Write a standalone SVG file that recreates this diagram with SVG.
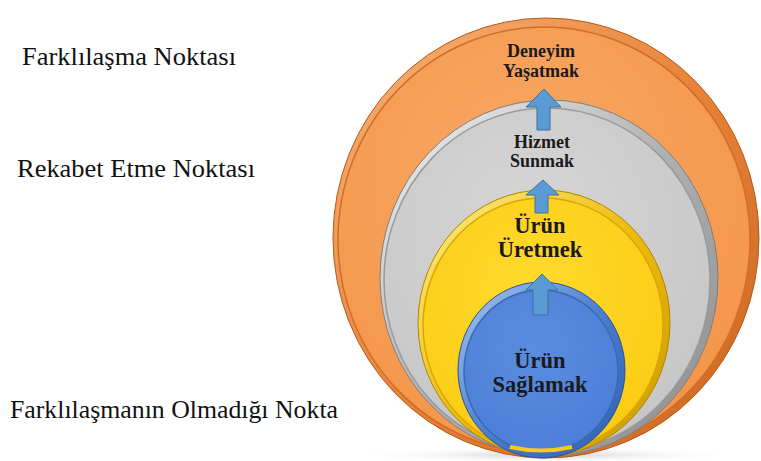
<svg xmlns="http://www.w3.org/2000/svg" width="761" height="461" viewBox="0 0 761 461">
<defs>
<linearGradient id="rimO" x1="0" y1="0" x2="1" y2="1"><stop offset="0" stop-color="#F9B47A"/><stop offset="0.5" stop-color="#E8833A"/><stop offset="1" stop-color="#C9651E"/></linearGradient>
<radialGradient id="fillO" cx="0.45" cy="0.35" r="0.7"><stop offset="0" stop-color="#F9A865"/><stop offset="1" stop-color="#F39548"/></radialGradient>
<linearGradient id="rimG" x1="0" y1="0" x2="1" y2="1"><stop offset="0" stop-color="#F4F4F4"/><stop offset="0.5" stop-color="#B0B0B0"/><stop offset="1" stop-color="#8C8C8C"/></linearGradient>
<radialGradient id="fillG" cx="0.45" cy="0.35" r="0.7"><stop offset="0" stop-color="#D6D6D6"/><stop offset="1" stop-color="#C6C6C6"/></radialGradient>
<linearGradient id="rimY" x1="0" y1="0" x2="1" y2="1"><stop offset="0" stop-color="#FFF08A"/><stop offset="0.5" stop-color="#EDBB10"/><stop offset="1" stop-color="#C99A00"/></linearGradient>
<radialGradient id="fillY" cx="0.45" cy="0.35" r="0.7"><stop offset="0" stop-color="#FFDA2E"/><stop offset="1" stop-color="#FBCB12"/></radialGradient>
<linearGradient id="rimB" x1="0" y1="0" x2="1" y2="1"><stop offset="0" stop-color="#A9C8F2"/><stop offset="0.5" stop-color="#4D7FCF"/><stop offset="1" stop-color="#2F5EAE"/></linearGradient>
<radialGradient id="fillB" cx="0.45" cy="0.35" r="0.7"><stop offset="0" stop-color="#5A8CE0"/><stop offset="1" stop-color="#4C7ED6"/></radialGradient>
<radialGradient id="shadow" cx="0.5" cy="0.5" r="0.5"><stop offset="0" stop-color="#B0B0B0" stop-opacity="0.6"/><stop offset="1" stop-color="#FFFFFF" stop-opacity="0"/></radialGradient>
</defs>
<style>
.side{font-family:'Liberation Serif','Tinos','DejaVu Serif','Noto Serif','Times New Roman',Times,serif;font-size:25px;fill:#111}
.lbl{font-family:'Liberation Serif','Tinos','DejaVu Serif','Noto Serif','Times New Roman',Times,serif;font-weight:bold;fill:#1a1a1a;text-anchor:middle}
.s{font-size:18px}
.b{font-size:22.5px}
.arrow{fill:#5B9BD5;stroke:#41719C;stroke-width:1}
</style>
<rect width="761" height="461" fill="#FFFFFF"/>
<ellipse cx="546" cy="455" rx="200" ry="8" fill="url(#shadow)"/>
<g id="side-labels">
<text class="side" x="22" y="65" textLength="214" lengthAdjust="spacingAndGlyphs">Farklılaşma Noktası</text>
<text class="side" x="17" y="177" textLength="238" lengthAdjust="spacingAndGlyphs">Rekabet Etme Noktası</text>
<text class="side" x="10" y="418" textLength="328" lengthAdjust="spacingAndGlyphs">Farklılaşmanın Olmadığı Nokta</text>
</g>
<g id="node-orange">
<ellipse cx="546" cy="238" rx="213" ry="220" fill="url(#rimO)" stroke="#B55A1A" stroke-width="1"/>
<ellipse cx="544" cy="240" rx="206" ry="213" fill="url(#fillO)" stroke="#D06E28" stroke-width="1.5"/>
<text class="lbl s" x="541" y="57">Deneyim</text>
<text class="lbl s" x="541" y="77">Yaşatmak</text>
</g>
<g id="node-gray">
<ellipse cx="549" cy="278" rx="169" ry="178" fill="url(#rimG)" stroke="#7F7F7F" stroke-width="1"/>
<ellipse cx="547" cy="280" rx="163" ry="172" fill="url(#fillG)" stroke="#9A9A9A" stroke-width="1.5"/>
<text class="lbl s" x="542" y="148">Hizmet</text>
<text class="lbl s" x="542" y="167">Sunmak</text>
</g>
<g id="node-yellow">
<ellipse cx="544" cy="323" rx="126" ry="133" fill="url(#rimY)" stroke="#B08600" stroke-width="1"/>
<ellipse cx="543" cy="325" rx="120" ry="127" fill="url(#fillY)" stroke="#D9A800" stroke-width="1.5"/>
<text class="lbl b" x="540" y="233">Ürün</text>
<text class="lbl b" x="540" y="257">Üretmek</text>
</g>
<g id="node-blue">
<ellipse cx="541.5" cy="370" rx="83.5" ry="88" fill="url(#rimB)" stroke="#2A5298" stroke-width="1"/>
<ellipse cx="541" cy="371" rx="77" ry="81" fill="url(#fillB)" stroke="#3A68B8" stroke-width="1.5"/>
<path d="M510 447 Q541 454 572 447" fill="none" stroke="#F7CB1A" stroke-width="4"/>
<text class="lbl b" x="540" y="368">Ürün</text>
<text class="lbl b" x="540" y="392">Sağlamak</text>
</g>
<g id="connectors">
<path class="arrow" d="M544 89 L561 107 L550 107 L550 130 L537 130 L537 107 L526 107 Z"/>
<path class="arrow" d="M543 180 L559 195 L548 195 L548 213 L535 213 L535 195 L526 195 Z"/>
<path class="arrow" d="M542 274 L558 290 L548 290 L548 315 L533 315 L533 290 L526 290 Z"/>
</g>
</svg>
